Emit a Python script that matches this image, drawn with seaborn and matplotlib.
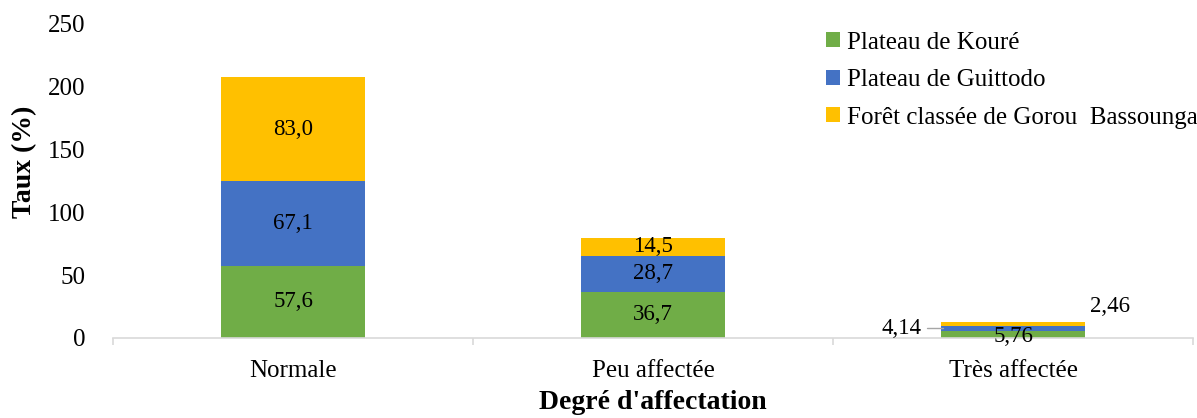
import matplotlib
matplotlib.use("Agg")
import matplotlib.pyplot as plt
from matplotlib.patches import Patch
from matplotlib.ticker import FixedLocator
import seaborn as sns
import pandas as pd
import numpy as np

# Categories and series values (%)
categories = ["Normale", "Peu affectée", "Très affectée"]
koure = [57.6, 36.7, 5.76]
guittodo = [67.1, 28.7, 4.14]
gorou = [83.0, 14.5, 2.46]

series_names = ["Plateau de Kouré", "Plateau de Guittodo", "Forêt classée de Gorou  Bassounga"]
series_colors = ["#70AD47", "#4472C4", "#FFC000"]
label_texts = {
    "koure": ["57,6", "36,7", "5,76"],
    "guittodo": ["67,1", "28,7", "4,14"],
    "gorou": ["83,0", "14,5", "2,46"],
}

sns.set_theme(style="white")
plt.rcParams["font.family"] = ["Liberation Serif", "DejaVu Serif"]
plt.rcParams["text.color"] = "black"
plt.rcParams["axes.labelcolor"] = "black"
plt.rcParams["xtick.color"] = "black"
plt.rcParams["ytick.color"] = "black"

df = pd.DataFrame({
    "cat": categories,
    "koure": koure,
    "guittodo": guittodo,
    "gorou": gorou,
})
df["lvl1"] = df["koure"]
df["lvl2"] = df["koure"] + df["guittodo"]
df["lvl3"] = df["lvl2"] + df["gorou"]

fig = plt.figure(figsize=(11.97, 4.18), dpi=100)
ax = fig.add_axes([0.0944, 0.1914, 0.9023, 0.7512])

# Stacked bars: draw cumulative totals from the top layer down
for col, color in zip(["lvl3", "lvl2", "lvl1"], series_colors[::-1]):
    sns.barplot(data=df, x="cat", y=col, color=color, width=0.4,
                saturation=1, ax=ax, order=categories, zorder=2)
for p in ax.patches:
    p.set_linewidth(0)

ax.set_ylim(0, 250)
ax.set_xlim(-0.5, 2.5)
ax.set_yticks([0, 50, 100, 150, 200, 250])

fs = 18
vfs = 16.5
ax.tick_params(axis="y", length=0, pad=20, labelsize=fs, labelcolor="black")
ax.tick_params(axis="x", which="major", length=0, pad=16, labelsize=fs, labelcolor="black")
ax.xaxis.set_minor_locator(FixedLocator([-0.5, 0.5, 1.5, 2.5]))
ax.tick_params(axis="x", which="minor", length=5, width=1.2, color="#D9D9D9",
               direction="out", bottom=True)

for s in ["top", "right", "left"]:
    ax.spines[s].set_visible(False)
ax.spines["bottom"].set_color("#D9D9D9")
ax.spines["bottom"].set_linewidth(1.2)

ax.set_xlabel("Degré d'affectation", fontsize=20, fontweight="bold", color="black")
ax.xaxis.set_label_coords(0.5, -0.165)
ax.set_ylabel("Taux (%)", fontsize=20, fontweight="bold", color="black")
ax.yaxis.set_label_coords(-0.070, 0.56)

# Value labels
x = np.arange(len(categories))
for i in range(2):
    ax.text(x[i], koure[i] / 2, label_texts["koure"][i], ha="center", va="center", fontsize=vfs, zorder=3)
    ax.text(x[i], koure[i] + guittodo[i] / 2, label_texts["guittodo"][i], ha="center", va="center", fontsize=vfs, zorder=3)
    ax.text(x[i], koure[i] + guittodo[i] + gorou[i] / 2, label_texts["gorou"][i], ha="center", va="center", fontsize=vfs, zorder=3)

# Small segments of the last bar: labels placed beside the bar
ax.text(x[2], koure[2] / 2 - 2, label_texts["koure"][2], ha="center", va="center",
        fontsize=vfs, zorder=3)
mid_blue = koure[2] + guittodo[2] / 2
ax.plot([x[2] - 0.24, x[2] - 0.195], [mid_blue, mid_blue], color="#A6A6A6", lw=1, zorder=3)
ax.text(x[2] - 0.255, mid_blue, label_texts["guittodo"][2], ha="right", va="center",
        fontsize=vfs, zorder=3)
ax.text(x[2] + 0.27, koure[2] + guittodo[2] + gorou[2] + 13, label_texts["gorou"][2],
        ha="center", va="center", fontsize=vfs, zorder=3)

handles = [Patch(facecolor=c, edgecolor="none") for c in series_colors]
fig.legend(handles, series_names, loc="upper left", bbox_to_anchor=(0.6815, 0.948),
           frameon=False, fontsize=fs, handlelength=0.55, handleheight=0.55,
           handletextpad=0.3, labelspacing=0.62, borderaxespad=0)

fig.savefig("out.png", dpi=100)
